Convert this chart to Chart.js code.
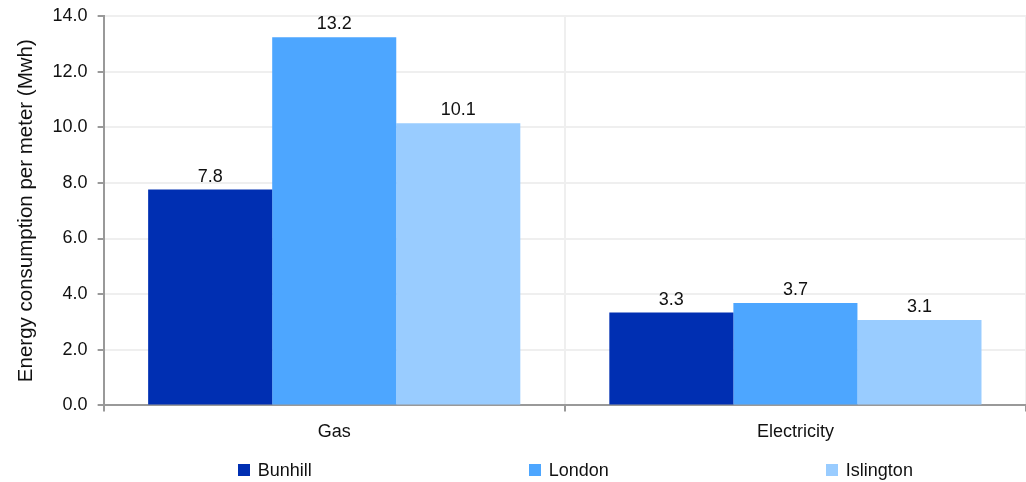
<!DOCTYPE html>
<html>
<head>
<meta charset="utf-8">
<script src="https://cdn.jsdelivr.net/npm/chart.js@4/dist/chart.umd.min.js"></script>
<style>
  html, body { margin: 0; padding: 0; background: #fff; }
  #wrap { width: 1026px; height: 482px; position: relative; }
</style>
</head>
<body>
<div id="wrap"><canvas id="c" width="1026" height="482"></canvas></div>
<script>
const categories = ["Gas", "Electricity"];
const seriesNames = ["Bunhill", "London", "Islington"];
const bunhill = [7.76, 3.34];
const london = [13.24, 3.68];
const islington = [10.14, 3.07];
const seriesColors = ["#002FB2", "#4DA6FF", "#99CCFF"];
const yTicks = [0, 2, 4, 6, 8, 10, 12, 14];
const yTitle = "Energy consumption per meter (Mwh)";

const FONT = "'Liberation Sans', Arial, sans-serif";
const TEXT = "#111";

const valueLabels = {
  id: 'valueLabels',
  afterDatasetsDraw(chart) {
    const ctx = chart.ctx;
    ctx.save();
    ctx.font = "18px " + FONT;
    ctx.fillStyle = TEXT;
    ctx.textAlign = 'center';
    ctx.textBaseline = 'alphabetic';
    chart.data.datasets.forEach((ds, i) => {
      const meta = chart.getDatasetMeta(i);
      meta.data.forEach((el, j) => {
        ctx.fillText(ds.data[j].toFixed(1), el.x, el.y - 8);
      });
    });
    ctx.restore();
  }
};

const bottomLegend = {
  id: 'bottomLegend',
  afterDraw(chart) {
    const ctx = chart.ctx;
    const area = chart.chartArea;
    const gap = 216, box = 12, fs = 18, shift = 11;
    ctx.save();
    ctx.font = fs + "px " + FONT;
    const widths = chart.data.datasets.map(ds => box + fs / 2 + ctx.measureText(ds.label).width);
    const total = widths.reduce((a, b) => a + b, 0) + gap * (widths.length - 1);
    let x = (area.left + area.right) / 2 - total / 2 + shift;
    const y = chart.height - 12;
    chart.data.datasets.forEach((ds, i) => {
      ctx.fillStyle = ds.backgroundColor;
      ctx.fillRect(Math.round(x), Math.round(y - box / 2), box, box);
      ctx.fillStyle = TEXT;
      ctx.textAlign = 'left';
      ctx.textBaseline = 'middle';
      ctx.fillText(ds.label, x + box + fs / 2 - 1, y + 1);
      x += widths[i] + gap;
    });
    ctx.restore();
  }
};

new Chart(document.getElementById('c'), {
  type: 'bar',
  data: {
    labels: categories,
    datasets: [
      { label: seriesNames[0], data: bunhill, backgroundColor: seriesColors[0] },
      { label: seriesNames[1], data: london, backgroundColor: seriesColors[1] },
      { label: seriesNames[2], data: islington, backgroundColor: seriesColors[2] }
    ]
  },
  options: {
    responsive: false,
    animation: false,
    layout: { padding: { top: 0, left: 0, right: 0, bottom: 29 } },
    datasets: { bar: { categoryPercentage: 0.807, barPercentage: 1.0 } },
    plugins: {
      legend: { display: false },
      tooltip: { enabled: false }
    },
    scales: {
      x: {
        offset: true,
        grid: { offset: true, color: '#efefef', lineWidth: 2, tickColor: '#999', tickLength: 6, drawTicks: true },
        border: { color: '#999', width: 2 },
        ticks: { color: TEXT, font: { family: FONT, size: 18 }, padding: 10 }
      },
      y: {
        min: 0, max: 14,
        afterBuildTicks(scale) { scale.ticks = yTicks.map(v => ({ value: v })); },
        afterFit(scale) { scale.paddingTop = 16; },
        grid: { color: '#efefef', lineWidth: 2, tickColor: '#999', tickLength: 6 },
        border: { color: '#999', width: 2 },
        ticks: { color: TEXT, font: { family: FONT, size: 18 }, padding: 10, callback: v => Number(v).toFixed(1) },
        title: { display: true, text: yTitle, color: TEXT, font: { family: FONT, size: 20.5 }, padding: { top: 14, bottom: 4 } }
      }
    }
  },
  plugins: [valueLabels, bottomLegend]
});
</script>
</body>
</html>
